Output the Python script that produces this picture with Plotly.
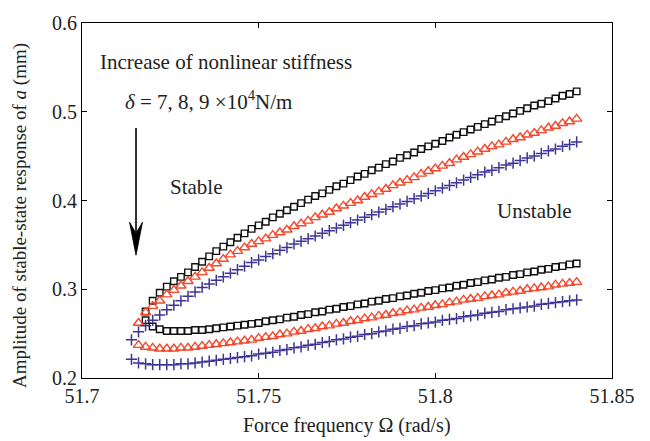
import plotly.graph_objects as go

# Sampled force frequencies (rad/s)
FREQ = [51.714, 51.716, 51.718, 51.720, 51.722, 51.724, 51.726, 51.728, 51.730, 51.732,
        51.734, 51.736, 51.738, 51.740, 51.742, 51.744, 51.746, 51.748, 51.750, 51.752,
        51.754, 51.756, 51.758, 51.760, 51.762, 51.764, 51.766, 51.768, 51.770, 51.772,
        51.774, 51.776, 51.778, 51.780, 51.782, 51.784, 51.786, 51.788, 51.790, 51.792,
        51.794, 51.796, 51.798, 51.800, 51.802, 51.804, 51.806, 51.808, 51.810, 51.812,
        51.814, 51.816, 51.818, 51.820, 51.822, 51.824, 51.826, 51.828, 51.830, 51.832,
        51.834, 51.836, 51.838, 51.840]

# delta = 7e4 N/m (black squares), starts at 51.718
D7_UPPER = [0.275, 0.287, 0.296, 0.303, 0.309, 0.314, 0.319, 0.325, 0.331, 0.337,
            0.343, 0.348, 0.353, 0.358, 0.363, 0.368, 0.372, 0.376, 0.381, 0.385,
            0.389, 0.393, 0.397, 0.401, 0.405, 0.408, 0.412, 0.416, 0.419, 0.423,
            0.427, 0.430, 0.434, 0.437, 0.441, 0.444, 0.448, 0.451, 0.454, 0.458,
            0.461, 0.464, 0.467, 0.471, 0.474, 0.477, 0.480, 0.483, 0.486, 0.489,
            0.492, 0.495, 0.498, 0.501, 0.504, 0.507, 0.509, 0.512, 0.515, 0.518,
            0.520, 0.523]
D7_LOWER = [0.265, 0.258, 0.255, 0.253, 0.253, 0.253, 0.253, 0.254, 0.254, 0.255,
            0.256, 0.257, 0.258, 0.259, 0.260, 0.261, 0.262, 0.264, 0.265, 0.266,
            0.268, 0.269, 0.271, 0.272, 0.274, 0.275, 0.277, 0.278, 0.280, 0.281,
            0.283, 0.284, 0.286, 0.287, 0.289, 0.290, 0.292, 0.293, 0.295, 0.296,
            0.298, 0.299, 0.301, 0.302, 0.304, 0.305, 0.307, 0.308, 0.310, 0.311,
            0.313, 0.314, 0.316, 0.317, 0.319, 0.320, 0.322, 0.323, 0.325, 0.326,
            0.328, 0.329]

# delta = 8e4 N/m (red triangles), starts at 51.716
D8_UPPER = [0.262, 0.274, 0.281, 0.287, 0.294, 0.299, 0.304, 0.309, 0.314, 0.319,
            0.324, 0.329, 0.334, 0.339, 0.343, 0.347, 0.351, 0.354, 0.357, 0.361,
            0.364, 0.367, 0.371, 0.374, 0.377, 0.381, 0.384, 0.387, 0.391, 0.394,
            0.397, 0.400, 0.404, 0.407, 0.410, 0.413, 0.417, 0.420, 0.423, 0.426,
            0.430, 0.433, 0.436, 0.439, 0.442, 0.446, 0.449, 0.452, 0.455, 0.458,
            0.461, 0.463, 0.466, 0.469, 0.471, 0.474, 0.476, 0.479, 0.482, 0.484,
            0.487, 0.489, 0.492]
D8_LOWER = [0.237, 0.235, 0.234, 0.233, 0.233, 0.233, 0.234, 0.234, 0.235, 0.236,
            0.237, 0.238, 0.239, 0.240, 0.241, 0.242, 0.243, 0.245, 0.246, 0.247,
            0.249, 0.250, 0.252, 0.253, 0.255, 0.256, 0.258, 0.259, 0.261, 0.262,
            0.264, 0.265, 0.267, 0.268, 0.270, 0.271, 0.273, 0.274, 0.276, 0.277,
            0.279, 0.280, 0.282, 0.283, 0.285, 0.286, 0.288, 0.289, 0.290, 0.292,
            0.293, 0.294, 0.296, 0.297, 0.298, 0.300, 0.301, 0.302, 0.303, 0.305,
            0.306, 0.307, 0.308]

# delta = 9e4 N/m (blue crosses), starts at 51.714
D9_UPPER = [0.243, 0.252, 0.259, 0.265, 0.271, 0.277, 0.282, 0.287, 0.292, 0.297,
            0.302, 0.306, 0.310, 0.314, 0.318, 0.322, 0.326, 0.330, 0.333, 0.337,
            0.340, 0.344, 0.347, 0.351, 0.354, 0.357, 0.360, 0.363, 0.366, 0.369,
            0.372, 0.375, 0.378, 0.381, 0.384, 0.387, 0.390, 0.393, 0.396, 0.399,
            0.402, 0.405, 0.408, 0.411, 0.414, 0.417, 0.420, 0.423, 0.426, 0.429,
            0.432, 0.434, 0.437, 0.440, 0.442, 0.445, 0.448, 0.450, 0.453, 0.456,
            0.458, 0.461, 0.463, 0.466]
D9_LOWER = [0.221, 0.217, 0.216, 0.215, 0.215, 0.215, 0.215, 0.216, 0.216, 0.217,
            0.218, 0.219, 0.220, 0.221, 0.222, 0.223, 0.224, 0.225, 0.227, 0.228,
            0.229, 0.231, 0.232, 0.234, 0.235, 0.237, 0.238, 0.240, 0.241, 0.243,
            0.244, 0.246, 0.247, 0.249, 0.250, 0.252, 0.253, 0.255, 0.256, 0.258,
            0.259, 0.261, 0.262, 0.263, 0.265, 0.266, 0.267, 0.269, 0.270, 0.271,
            0.273, 0.274, 0.275, 0.277, 0.278, 0.279, 0.280, 0.281, 0.283, 0.284,
            0.285, 0.286, 0.287, 0.288]

X_TICKS = [51.7, 51.75, 51.8, 51.85]
X_TICK_TEXT = ["51.7", "51.75", "51.8", "51.85"]
Y_TICKS = [0.2, 0.3, 0.4, 0.5, 0.6]
Y_TICK_TEXT = ["0.2", "0.3", "0.4", "0.5", "0.6"]

FONT = "Liberation Serif"
BLACK = "#111111"
RED = "rgb(244,72,44)"
BLUE = "rgb(62,52,150)"

series = [
    (D7_UPPER, D7_LOWER, "square-open", 6.5, BLACK, 1.4),
    (D8_UPPER, D8_LOWER, "triangle-up-open", 9, RED, 1.4),
    (D9_UPPER, D9_LOWER, "cross-thin-open", 8, BLUE, 1.5),
]

fig = go.Figure()
for up, lo, sym, size, col, lw in series:
    for ys in (up, lo):
        xs = FREQ[len(FREQ) - len(ys):]
        fig.add_trace(go.Scatter(
            x=xs, y=ys, mode="markers",
            marker=dict(symbol=sym, size=size, color=col, line=dict(color=col, width=lw)),
            showlegend=False, hoverinfo="skip"))

axis_common = dict(
    showline=True, linecolor="black", linewidth=1.2, mirror="ticks",
    ticks="inside", ticklen=5, tickwidth=1, tickcolor="black",
    showgrid=False, zeroline=False,
    tickfont=dict(family=FONT, size=20, color="#222"),
)

fig.update_xaxes(range=[51.7, 51.85], tickvals=X_TICKS, ticktext=X_TICK_TEXT, **axis_common)
fig.update_yaxes(range=[0.2, 0.6], tickvals=Y_TICKS, ticktext=Y_TICK_TEXT, **axis_common)

txt = dict(family=FONT, size=21, color="#222")
annotations = [
    dict(text="Force frequency Ω (rad/s)", xref="paper", yref="paper", x=0.5, y=-0.133,
         xanchor="center", yanchor="middle", showarrow=False, font=dict(family=FONT, size=20, color="#222")),
    dict(text="Amplitude of stable-state response of <i>a</i> (mm)", xref="paper", yref="paper",
         x=-0.117, y=0.459, xanchor="center", yanchor="middle", textangle=-90, showarrow=False,
         font=dict(family=FONT, size=19, color="#222")),
    dict(text="Increase of nonlinear stiffness", xref="paper", yref="paper", x=0.031, y=0.890,
         xanchor="left", yanchor="middle", showarrow=False, font=txt),
    dict(text="<i>δ</i> = 7, 8, 9 ×10<sup>4</sup>N/m", xref="paper", yref="paper", x=0.077, y=0.783,
         xanchor="left", yanchor="middle", showarrow=False, font=txt),
    dict(text="Stable", xref="paper", yref="paper", x=0.216, y=0.537,
         xanchor="center", yanchor="middle", showarrow=False, font=txt),
    dict(text="Unstable", xref="paper", yref="paper", x=0.853, y=0.470,
         xanchor="center", yanchor="middle", showarrow=False, font=txt),
]

# Downward arrow (shaft + elongated notched head), in paper coordinates
shapes = [
    dict(type="line", xref="paper", yref="paper", x0=0.1019, x1=0.1019, y0=0.704, y1=0.41,
         line=dict(color="black", width=1.6)),
    dict(type="path", xref="paper", yref="paper",
         path="M 0.1019 0.3459 L 0.0896 0.4390 L 0.1019 0.4080 L 0.1142 0.4390 Z",
         fillcolor="black", line=dict(color="black", width=0.8)),
]

fig.update_layout(
    width=650, height=441,
    margin=dict(l=82, r=38, t=23, b=63),
    paper_bgcolor="white", plot_bgcolor="white",
    annotations=annotations, shapes=shapes,
)

fig.write_html("out.html")
